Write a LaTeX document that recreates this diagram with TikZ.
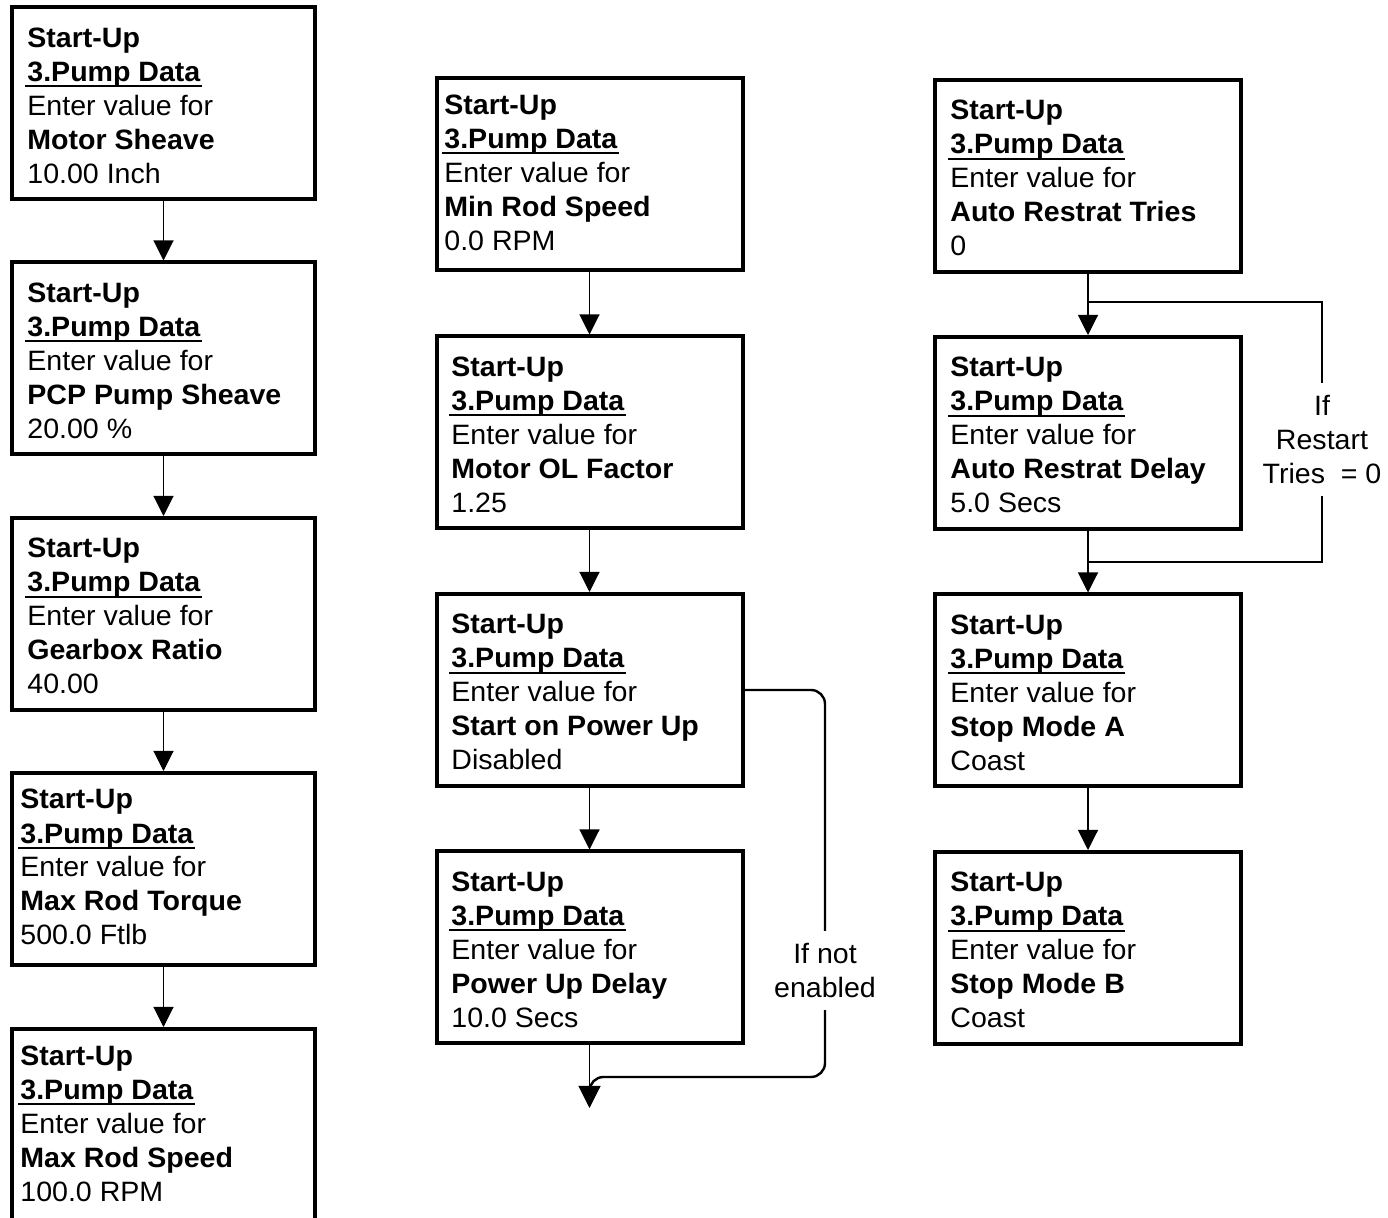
\documentclass[tikz,border=0pt]{standalone}
\usepackage{fontspec}
\setmainfont{Liberation Sans}[FakeStretch=1.02]
\usetikzlibrary{arrows.meta}
\newcommand\pdul[1]{\setbox0=\hbox{#1}\rlap{\kern-1pt\rule[-3pt]{\dimexpr\wd0+2pt\relax}{1.1pt}}\box0}
\newcommand\stxt[2]{\textbf{Start-Up}\\\textbf{\pdul{3.Pump Data}}\\Enter value for\\\textbf{#1}\\#2}
\tikzset{
  box/.style={draw, line width=2pt, rectangle, inner sep=0pt, minimum height=96pt},
  lbox/.style={box, minimum width=151.5pt},
  wbox/.style={box, minimum width=153pt},
  txt/.style={anchor=base west, align=left, inner sep=0pt, font=\fontsize{14}{17}\selectfont},
  conn/.style={draw, line width=0.55pt, -{Triangle[width=10pt,length=10pt]}},
  bigtip/.style={draw, line width=0.55pt, -{Triangle[width=11pt,length=11pt]}},
  lbl/.style={align=center, fill=white, font=\fontsize{14}{17}\selectfont, inner xsep=1pt, inner ysep=6pt},
}
\begin{document}
\begin{tikzpicture}[x=0.5pt, y=-0.5pt]
\clip (0,0) rectangle (1388,1218);
\fill[white] (0,0) rectangle (1388,1218);
% left column
\node[lbox] (L1) at (163.5,103.5) {};
\node[lbox] (L2) at (163.5,358.5) {};
\node[lbox] (L3) at (163.5,614) {};
\node[lbox] (L4) at (163.5,869) {};
\node[lbox] (L5) at (163.5,1125) {};
\node[txt] (L1t) at (27,183.5) {\stxt{Motor Sheave}{10.00 Inch}};
\node[txt] (L2t) at (27,438.5) {\stxt{PCP Pump Sheave}{20.00 \%}};
\node[txt] (L3t) at (27,694) {\stxt{Gearbox Ratio}{40.00}};
\node[txt] (L4t) at (20,945) {\stxt{Max Rod Torque}{500.0 Ftlb}};
\node[txt] (L5t) at (20,1201) {\stxt{Max Rod Speed}{100.0 RPM}};
\path[conn] (L1) -- (L2);
\path[conn] (L2) -- (L3);
\path[conn] (L3) -- (L4);
\path[conn] (L4) -- (L5);
% middle column
\node[wbox] (M1) at (589.5,174.5) {};
\node[wbox] (M2) at (589.5,432.5) {};
\node[wbox] (M3) at (589.5,690) {};
\node[wbox] (M4) at (589.5,947.5) {};
\node[txt] (M1t) at (444,250.5) {\stxt{Min Rod Speed}{0.0 RPM}};
\node[txt] (M2t) at (451,512.5) {\stxt{Motor OL Factor}{1.25}};
\node[txt] (M3t) at (451,770) {\stxt{Start on Power Up}{Disabled}};
\node[txt] (M4t) at (451,1027.5) {\stxt{Power Up Delay}{10.0 Secs}};
\path[conn] (M1) -- (M2);
\path[conn] (M2) -- (M3);
\path[conn] (M3) -- (M4);
\coordinate (Mend) at (589.5,1108);
\coordinate (sa) at (825,690);
\coordinate (sb) at (825,1077);
\coordinate (sc) at (589.5,1077);
\coordinate (sd) at (589.5,1094);
\draw[line width=1.2pt, rounded corners=7pt] (M3.east) -- (sa) -- (sb) -- (sc) -- (sd);
\path[bigtip] (M4) -- (Mend);
\node[lbl] (notEn) at (825,970.5) {If not\\enabled};
% right column
\node[wbox] (R1) at (1088,176) {};
\node[wbox] (R2) at (1088,433) {};
\node[wbox] (R3) at (1088,690.5) {};
\node[wbox] (R4) at (1088,948) {};
\node[txt] (R1t) at (950,256) {\stxt{Auto Restrat Tries}{0}};
\node[txt] (R2t) at (950,513) {\stxt{Auto Restrat Delay}{5.0 Secs}};
\node[txt] (R3t) at (950,770.5) {\stxt{Stop Mode A}{Coast}};
\node[txt] (R4t) at (950,1028) {\stxt{Stop Mode B}{Coast}};
\path[conn] (R1) -- (R2);
\path[conn] (R2) -- (R3);
\path[conn] (R3) -- (R4);
\coordinate (ra) at (1088,302);
\coordinate (rb) at (1322,302);
\coordinate (rc) at (1322,562);
\coordinate (rd) at (1088,562);
\draw[line width=0.55pt] (ra) -- (rb) -- (rc) -- (rd);
\node[lbl] (ifRes) at (1322,439.5) {If\\Restart\\Tries\ \ = 0};
\end{tikzpicture}
\end{document}
